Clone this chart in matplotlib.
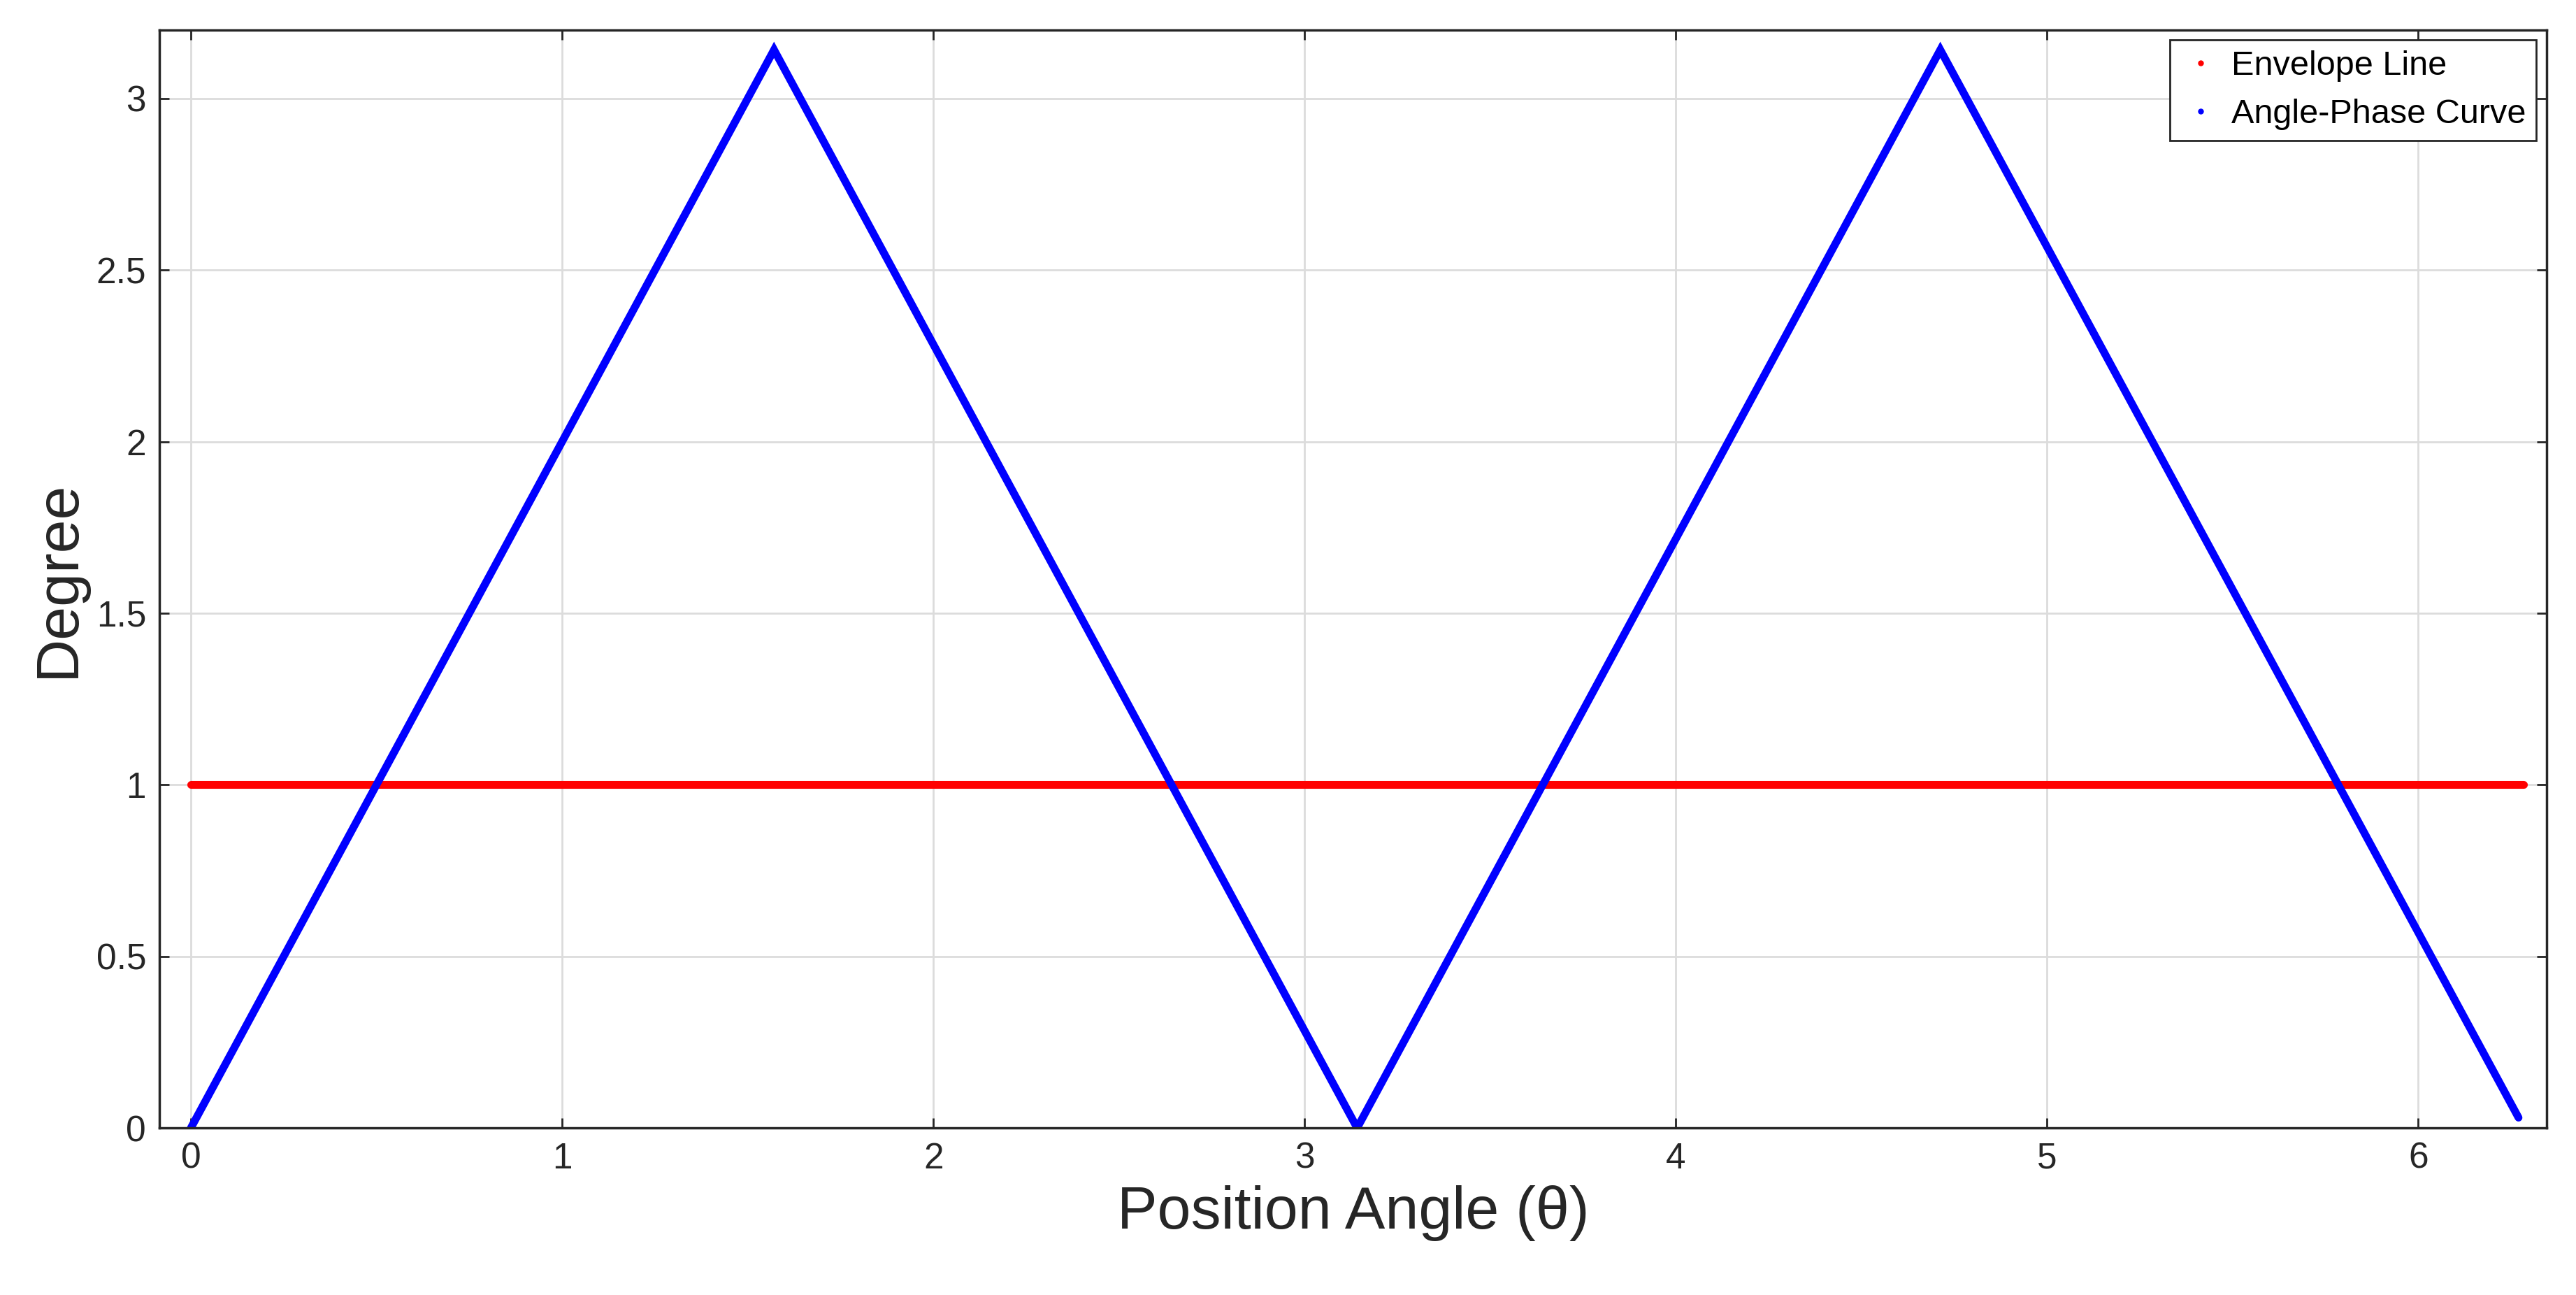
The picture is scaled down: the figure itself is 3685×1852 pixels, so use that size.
import matplotlib
matplotlib.use("Agg")
import matplotlib.pyplot as plt
from matplotlib.lines import Line2D

plt.rcParams['font.family'] = ['Liberation Sans', 'DejaVu Sans']

env_theta = [0.0, 6.2832]
env_vals = [1.0, 1.0]
curve_theta = [0.0, 1.5708, 3.1416, 4.7124, 6.27]
curve_vals = [0.0, 3.1416, 0.0, 3.1416, 0.03]
xticks = [0, 1, 2, 3, 4, 5, 6]
yticks = [0, 0.5, 1, 1.5, 2, 2.5, 3]

fig = plt.figure(figsize=(36.85, 18.52), dpi=100)
ax = fig.add_axes([0.062, 0.129, 0.9265, 0.848])
ax.plot(env_theta, env_vals, color='red', lw=8, solid_capstyle='round')
ax.plot(curve_theta, curve_vals, color='blue', lw=8, solid_capstyle='round', solid_joinstyle='miter')
ax.set_xlim(-0.084, 6.345)
ax.set_ylim(0, 3.2)
ax.set_xticks(xticks)
ax.set_yticks(yticks)
ax.set_yticklabels(['0', '0.5', '1', '1.5', '2', '2.5', '3'])
ax.grid(True, color='#dcdcdc', lw=2)
ax.set_axisbelow(True)
ax.tick_params(labelsize=37, colors='#262626', length=10, width=2, direction='in', top=True, right=True, pad=14)
for s in ax.spines.values():
    s.set_linewidth(2.5)
    s.set_color('#262626')
ax.set_xlabel('Position Angle (θ)', fontsize=62, color='#262626', labelpad=10)
ax.set_ylabel('Degree', fontsize=62, color='#262626', labelpad=10)
handles = [Line2D([], [], color='red', marker='.', ls='none', ms=10),
           Line2D([], [], color='blue', marker='.', ls='none', ms=10)]
leg = ax.legend(handles, ['Envelope Line', 'Angle-Phase Curve'], loc='upper right',
                fontsize=35, fancybox=False, edgecolor='#262626', framealpha=1,
                borderaxespad=0.3, handletextpad=0.3, handlelength=1.2, borderpad=0.3)
leg.get_frame().set_linewidth(2)
fig.savefig('out.png', dpi=100)
